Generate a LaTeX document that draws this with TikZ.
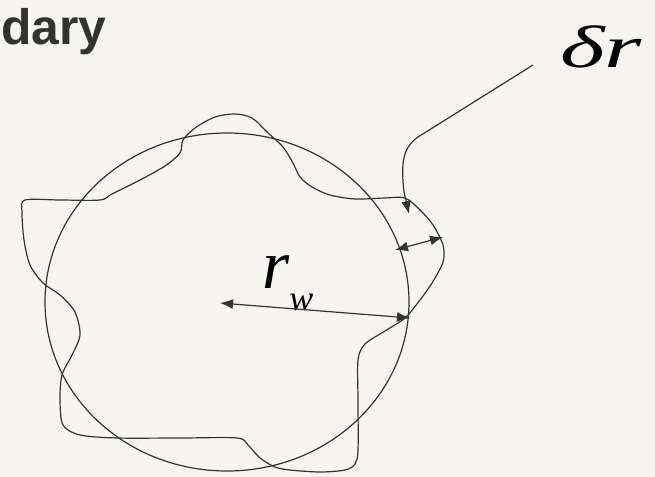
\documentclass[tikz,border=0pt]{standalone}
\usepackage{fontspec}
\usepackage{tikz}
\usetikzlibrary{arrows.meta}
\setmainfont{Liberation Serif}
\newfontfamily\headfont{Liberation Sans}
\definecolor{paper}{RGB}{246,245,241}
\definecolor{ink}{RGB}{50,50,50}

\begin{document}
\begin{tikzpicture}[x=1bp,y=-1bp,
  line/.style={ink,line width=1.2bp},
  tip/.style={-{Latex[length=13bp,width=10bp]}},
  tips/.style={{Latex[length=13bp,width=10bp]}-{Latex[length=13bp,width=10bp]}}]
\fill[paper] (0,0) rectangle (655,477);
\useasboundingbox (0,0) rectangle (655,477);
% labels
\node[anchor=base west,inner sep=0,text=ink] (title) at (1,45) {\headfont\bfseries\fontsize{50}{50}\selectfont dary};
\node[anchor=base west,inner sep=0] (dr) at (560,68) {\scalebox{1.6}[1]{\fontsize{60}{60}\selectfont\itshape δr}};
\node[anchor=base west,inner sep=0] (rw) at (262,288) {\fontsize{70}{70}\selectfont\itshape r\raisebox{-22bp}{\fontsize{36}{36}\selectfont w}};
% ideal circle and rough boundary
\draw[line] (227,302) ellipse (182 and 169);
\draw[line] plot[smooth cycle,tension=0.5] coordinates {
  (25,200) (60,200) (100,200) (112,194) (140,180) (165,166) (180,153) (183,140)
  (195,128) (215,117) (235,114) (252,118) (267,132) (283,147) (293,163) (300,177)
  (312,187) (330,195) (355,199) (385,198) (405,198) (420,210) (433,225) (443,245)
  (443,262) (432,283) (420,300) (405,318) (385,331) (365,344) (358,360) (358,400)
  (358,450) (355,464) (345,470) (320,472) (290,470) (275,467) (260,458) (248,445)
  (237,438) (180,438) (117,438) (80,435) (63,425) (60,400) (62,375) (72,355)
  (80,335) (75,312) (60,295) (43,283) (30,265) (24,240) (22,212)};
% arrows
\coordinate (ctr) at (220,303);
\coordinate (rim) at (410,318);
\coordinate (lead) at (533,65);
\coordinate (hit) at (409,214);
\coordinate (inn) at (395,250);
\coordinate (out) at (443,237);
\draw[line,tips] (ctr) -- (rim);
\draw[line,tips] (inn) -- (out);
\draw[line,tip] (lead) -- (418,137) .. controls (402,148) and (401,165) .. (404,192) -- (hit);
\end{tikzpicture}
\end{document}
